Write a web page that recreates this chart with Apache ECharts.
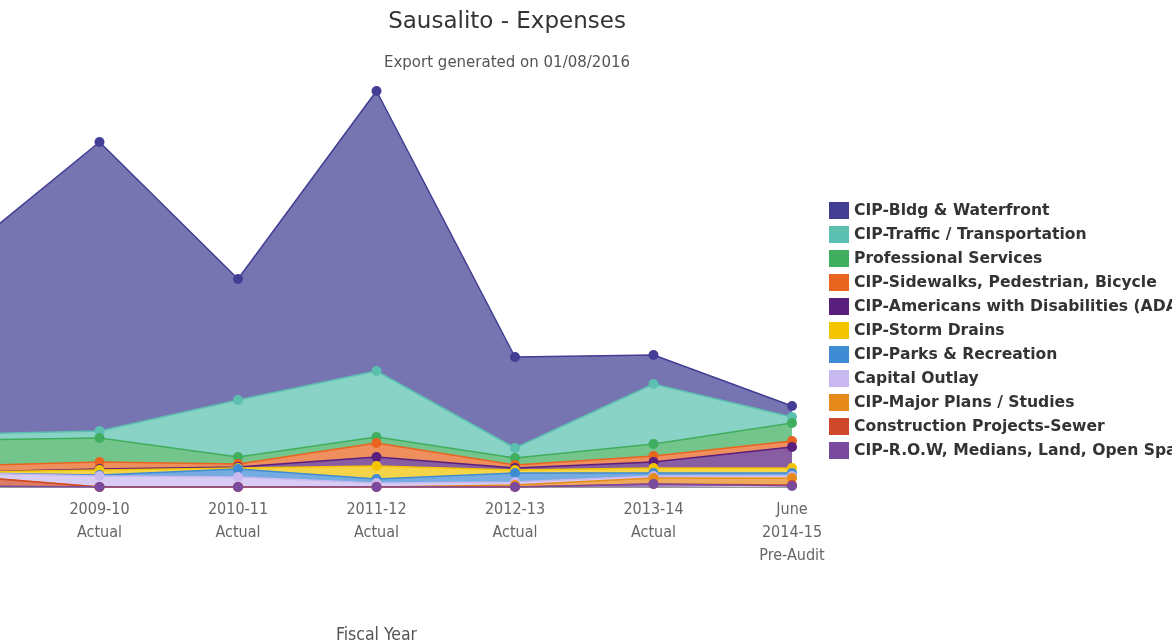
<!DOCTYPE html>
<html>
<head>
<meta charset="utf-8">
<script src="https://cdn.jsdelivr.net/npm/echarts@6/dist/echarts.min.js"></script>
<style>html,body{margin:0;padding:0;background:#fff;}#c{width:1172px;height:644px;}</style>
</head>
<body>
<div id="c"></div>
<script>
var categories = ["2008-09\nActual", "2009-10\nActual", "2010-11\nActual", "2011-12\nActual", "2012-13\nActual", "2013-14\nActual", "June\n2014-15\nPre-Audit"];

// values in dollars, series listed bottom of stack first
var rowMedians      = [10000, 0, 0, 0, 0, 30000, 10000];
var sewer           = [100000, 0, 0, 0, 0, 0, 10000];
var majorPlans      = [0, 0, 0, 0, 20000, 60000, 70000];
var capitalOutlay   = [30000, 110000, 100000, 40000, 30000, 20000, 20000];
var parks           = [0, 10000, 80000, 40000, 90000, 30000, 30000];
var stormDrains     = [10000, 50000, 10000, 130000, 30000, 50000, 50000];
var ada             = [0, 10000, 10000, 90000, 20000, 60000, 210000];
var sidewalks       = [60000, 70000, 30000, 140000, 30000, 60000, 60000];
var professional    = [260000, 240000, 70000, 60000, 70000, 120000, 180000];
var traffic         = [60000, 70000, 570000, 660000, 100000, 600000, 60000];
var bldgWaterfront  = [1790000, 2890000, 1210000, 2800000, 910000, 290000, 110000];

var seriesNames = ["CIP-R.O.W, Medians, Land, Open Space", "Construction Projects-Sewer", "CIP-Major Plans / Studies", "Capital Outlay", "CIP-Parks & Recreation", "CIP-Storm Drains", "CIP-Americans with Disabilities (ADA)", "CIP-Sidewalks, Pedestrian, Bicycle", "Professional Services", "CIP-Traffic / Transportation", "CIP-Bldg & Waterfront"];
var seriesData = [rowMedians, sewer, majorPlans, capitalOutlay, parks, stormDrains, ada, sidewalks, professional, traffic, bldgWaterfront];
var seriesColors = ["#7a4a9e", "#d0482a", "#e68a1c", "#c8b8f0", "#3f8bd4", "#f3c400", "#5a1e7d", "#e8641f", "#3fae5e", "#5cc0b0", "#433e94"];

var series = seriesNames.map(function (n, i) {
  return {
    name: n,
    type: 'line',
    stack: 'total',
    z: 30 - i,
    data: seriesData[i],
    symbol: 'circle',
    symbolSize: 10,
    showSymbol: true,
    lineStyle: { width: 1.5, color: seriesColors[i] },
    itemStyle: { color: seriesColors[i] },
    areaStyle: { color: seriesColors[i], opacity: 0.72 },
    emphasis: { disabled: true },
    animation: false
  };
});

var sansFont = "'DejaVu Sans', sans-serif";
var narrowFont = "'DejaVu Sans Condensed', 'Liberation Sans Narrow', 'Roboto Condensed', sans-serif";

var chart = echarts.init(document.getElementById('c'), null, { renderer: 'canvas' });
chart.setOption({
  animation: false,
  color: seriesColors,
  title: {
    text: 'Sausalito - Expenses',
    subtext: 'Export generated on 01/08/2016',
    left: 502,
    top: 6,
    textAlign: 'center',
    itemGap: 22,
    textStyle: { fontFamily: sansFont, fontSize: 23, fontWeight: 'normal', color: '#333' },
    subtextStyle: { fontFamily: sansFont, fontSize: 15, color: '#555' }
  },
  legend: {
    orient: 'vertical',
    left: 824,
    top: 197,
    itemWidth: 20,
    itemHeight: 17,
    itemGap: 7,
    icon: 'rect',
    data: seriesNames.slice().reverse(),
    textStyle: { fontFamily: sansFont, fontSize: 15.6, fontWeight: 'bold', color: '#333' },
    selectedMode: false
  },
  grid: { left: -39, right: 380, top: 87, bottom: 157, outerBoundsMode: 'none', containLabel: false },
  xAxis: {
    type: 'category',
    boundaryGap: false,
    data: categories,
    name: 'Fiscal Year',
    nameLocation: 'middle',
    nameGap: 139,
    nameTextStyle: { fontFamily: narrowFont, fontSize: 17.5, color: '#555' },
    axisLine: { show: true, lineStyle: { color: '#999', width: 1 } },
    axisTick: { show: false },
    axisLabel: { fontFamily: narrowFont, fontSize: 16, color: '#666', lineHeight: 23, margin: 11, interval: 0 },
    splitLine: { show: false }
  },
  yAxis: {
    type: 'value',
    min: 0,
    max: 4000000,
    show: false,
    splitLine: { show: false }
  },
  series: series
});
</script>
</body>
</html>
